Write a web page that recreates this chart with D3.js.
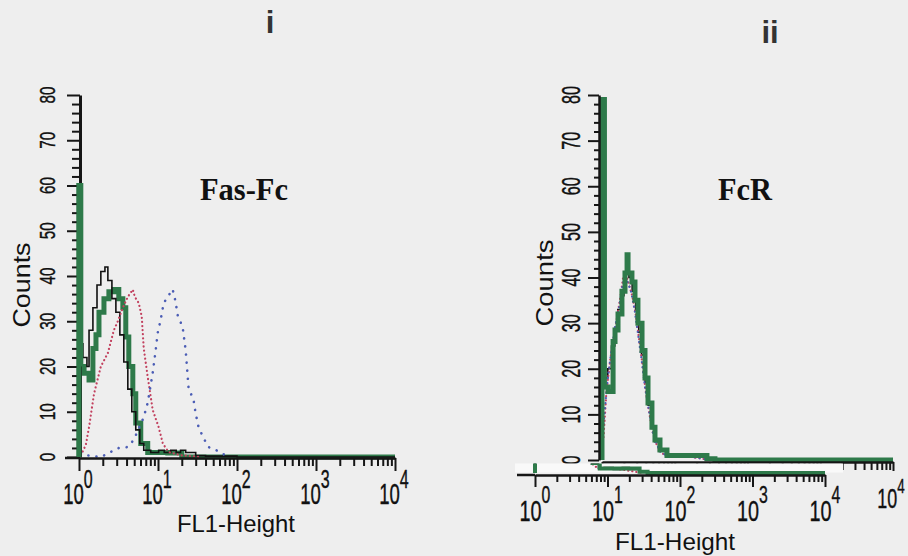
<!DOCTYPE html>
<html><head><meta charset="utf-8">
<script src="https://cdn.jsdelivr.net/npm/d3@7"></script>
<style>html,body{margin:0;padding:0;background:#eeeeee;} svg{display:block;}</style>
</head><body><svg id="c" width="908" height="556"></svg>
<script>
// ---------------- data ----------------
const panelNumbers = ["i", "ii"];
const panelLabels = ["Fas-Fc", "FcR"];
const xAxisTitle = "FL1-Height";
const yAxisTitle = "Counts";
const xTickExps = [0, 1, 2, 3, 4];
const yTickLabels = [0, 10, 20, 30, 40, 50, 60, 70, 80];

// Panel i (Fas-Fc): FL1 value vs counts
const leftGreenX = [1.0, 1.0, 1.05, 1.16, 1.34, 1.50, 1.64, 1.79, 2.07, 2.39, 2.76, 3.19, 3.59, 3.91, 4.27, 4.80, 5.23, 6.05, 7.41, 13.3, 20, 10000];
const leftGreenY = [0, 60, 20, 18.5, 17, 24, 27, 32, 35, 36.5, 37, 35, 33, 26.5, 20, 14, 7.5, 3, 1, 0.9, 0, 0];

const leftBlackX = [1.0, 1.0, 1.12, 1.26, 1.34, 1.50, 1.69, 1.89, 2.13, 2.32, 2.61, 2.93, 3.29, 3.69, 4.15, 4.66, 5.23, 5.88, 6.60, 8.09, 10.2, 12.0, 14.5, 17.0, 19.3, 22.4, 25.8, 30, 40, 100, 10000];
const leftBlackY = [0, 25, 22, 20, 28, 33, 38, 41, 42, 39, 35, 32, 27, 21, 15, 10, 6, 3, 1.5, 1, 1.5, 1, 1.5, 1, 1.5, 1, 1, 0.3, 0.2, 0, 0];

const leftRedX = [1.06, 1.22, 1.34, 1.55, 1.89, 2.32, 2.76, 3.10, 3.59, 4.15, 4.80, 5.09, 5.71, 6.23, 6.60, 7.41, 8.57, 10.2, 11.5, 13.6, 19.3, 34.5];
const leftRedY = [0.4, 2.7, 6.6, 14, 20, 23, 28, 30, 33, 35.4, 37, 35.4, 34, 31, 24, 17.7, 10.4, 6.6, 3, 1.1, 0.4, 0];

const leftBlueX = [1.06, 1.22, 1.89, 2.39, 3.19, 4.15, 4.94, 6.60, 7.41, 8.57, 9.35, 9.91, 10.8, 11.8, 13.3, 15.3, 16.7, 17.7, 20.5, 22.4, 24.4, 28.2, 29.9, 32.6, 37.7, 43.6, 61.8, 75.7];
const leftBlueY = [1, 0.4, 0, 0.9, 2, 2.2, 3.8, 8.8, 12, 18.6, 23.6, 27.4, 30.3, 34, 35.4, 37.1, 34.3, 31.4, 28.7, 23.6, 15.2, 12.6, 9.7, 6.6, 4.2, 2.2, 1.1, 0];

// Panel ii (FcR)
const rightGreenX = [1.0, 1.0, 1.08, 1.21, 1.42, 1.51, 1.66, 1.88, 2.07, 2.21, 2.28, 2.58, 2.84, 3.12, 3.55, 3.90, 4.29, 4.86, 5.35, 6.27, 7.82, 27.7, 35.7, 10000];
const rightGreenY = [0, 79, 16, 15, 26, 28.5, 32, 37, 41, 45, 41, 39, 35, 30, 24, 18, 12.5, 7.2, 4.4, 2.2, 1, 0.3, 0, 0];

const rightBlackX = [1.0, 1.0, 1.07, 1.2, 1.35, 1.5, 1.65, 1.85, 2.0, 2.15, 2.35, 2.6, 2.9, 3.2, 3.5, 3.9, 4.3, 4.8, 5.3, 6.0, 7.5, 9, 12, 16, 20, 28, 35, 10000];
const rightBlackY = [0, 75, 18, 20, 25, 29, 33, 36, 39, 42, 40, 37, 33, 28, 23, 17, 12, 7, 4, 2, 1, 1.2, 0.8, 1.2, 0.8, 0.5, 0, 0];

const rightRedX = [1.05, 1.15, 1.3, 1.45, 1.6, 1.8, 1.95, 2.1, 2.3, 2.6, 2.9, 3.2, 3.6, 4.0, 4.5, 5.0, 5.6, 6.5, 8, 12, 20, 30];
const rightRedY = [5, 15, 22, 27, 31, 36, 40, 41, 39, 36, 32, 27, 21, 15, 10, 6, 3.5, 1.5, 1, 1, 0.5, 0];

const rightBlueX = [1.05, 1.2, 1.35, 1.5, 1.7, 1.9, 2.05, 2.25, 2.5, 2.8, 3.1, 3.5, 3.9, 4.4, 5.0, 5.6, 6.5, 8, 12, 20, 30];
const rightBlueY = [8, 18, 24, 29, 33, 38, 40, 39, 37, 33, 28, 22, 16, 11, 6, 3.5, 1.5, 1, 1, 0.5, 0];

// ---------------- styles ----------------
const GREEN = "#2e7a4a", BLACK = "#111", RED = "#c2405e", BLUE = "#4b5db5", AXIS = "#161616";
const SANS = "Liberation Sans, Arial, sans-serif";
const SERIF = "Liberation Serif, Times New Roman, serif";

const svg = d3.select("#c");
svg.append("rect").attr("width", 908).attr("height", 556).attr("fill", "#eeeeee");

const zip = (xs, ys) => xs.map((x, i) => [x, ys[i]]);
const xTickVals = [];
for (let d = 0; d < 4; d++) for (let m = 1; m < 10; m++) xTickVals.push(m * Math.pow(10, d));
xTickVals.push(10000);

function drawSeries(g, x, y, xs, ys, opt) {
  const line = d3.line().x(d => x(d[0])).y(d => y(d[1])).curve(opt.curve || d3.curveLinear);
  g.append("path").datum(zip(xs, ys)).attr("d", line)
    .attr("fill", "none").attr("stroke", opt.color).attr("stroke-width", opt.width)
    .attr("stroke-dasharray", opt.dash || null).attr("stroke-linecap", opt.cap || "butt")
    .attr("stroke-linejoin", "miter");
}

function drawXAxis(g, x, yPos, extendLeft, majorLen, minorLen, width) {
  const ax = d3.axisBottom(x).tickValues(xTickVals).tickFormat("").tickSize(minorLen).tickSizeOuter(0);
  const a = g.append("g").attr("transform", `translate(0,${yPos})`).call(ax);
  a.select(".domain").attr("stroke", AXIS).attr("stroke-width", width);
  a.selectAll(".tick line").attr("stroke", AXIS).attr("stroke-width", 2)
    .filter(d => Math.abs(Math.log10(d) - Math.round(Math.log10(d))) < 1e-9).attr("y2", majorLen);
  a.append("line").attr("x1", x(1) - extendLeft).attr("x2", x(1)).attr("y1", 0).attr("y2", 0)
    .attr("stroke", AXIS).attr("stroke-width", width);
  return a;
}

function drawYAxis(g, y, xPos, majorLen, minorLen, width) {
  const ax = d3.axisLeft(y).tickValues(d3.range(0, 81, 2)).tickFormat("").tickSize(minorLen).tickSizeOuter(0);
  const a = g.append("g").attr("transform", `translate(${xPos},0)`).call(ax);
  a.select(".domain").attr("stroke", AXIS).attr("stroke-width", width);
  a.selectAll(".tick line").attr("stroke", AXIS).attr("stroke-width", 2)
    .filter(d => d % 10 === 0).attr("x2", -majorLen);
  return a;
}

function yLabels(g, y, baseX, size, digitW) {
  yTickLabels.forEach(v => {
    const s = String(v);
    g.append("text").attr("transform", `translate(${baseX},${y(v)}) rotate(-90)`)
      .attr("text-anchor", "middle").attr("font-family", SANS).attr("font-size", size)
      .attr("textLength", digitW * s.length).attr("lengthAdjust", "spacingAndGlyphs")
      .attr("fill", "#111").attr("stroke", "#111").attr("stroke-width", 0.4).text(s);
  });
}

function powLabel(g, cx, baseline, exp, mainSize, supSize, sx, supDy) {
  const t = g.append("text").attr("transform", `translate(${cx},${baseline}) scale(${sx},1)`)
    .attr("text-anchor", "middle").attr("font-family", SANS).attr("font-size", mainSize)
    .attr("fill", "#111").attr("stroke", "#111").attr("stroke-width", 0.4);
  t.append("tspan").text("10");
  t.append("tspan").attr("dy", supDy).attr("font-size", supSize).text(exp);
}

// ================= Panel i =================
{
  const g = svg.append("g");
  const x = d3.scaleLog().domain([1, 10000]).range([79, 395]);
  const y = d3.scaleLinear().domain([0, 80]).range([457, 95]);

  drawSeries(g, x, y, leftGreenX, leftGreenY, {color: GREEN, width: 5, curve: d3.curveStepAfter});
  drawSeries(g, x, y, leftBlackX, leftBlackY, {color: BLACK, width: 1.6, curve: d3.curveStepAfter});
  drawSeries(g, x, y, leftRedX, leftRedY, {color: RED, width: 2.2, dash: "0.1,4", cap: "round"});
  drawSeries(g, x, y, leftBlueX, leftBlueY, {color: BLUE, width: 2.6, dash: "0.1,8", cap: "round"});

  drawXAxis(g, x, 458, 14, 13, 8, 2.5);
  drawYAxis(g, y, 80, 13, 8, 3);
  drawSeries(g, x, y, leftGreenX.slice(0, 3), leftGreenY.slice(0, 3), {color: GREEN, width: 5, curve: d3.curveStepAfter});

  yLabels(g, y, 55, 22, 8.5);
  xTickExps.forEach(e => powLabel(g, x(Math.pow(10, e)) - 1, 504, String(e), 29, 25, 0.64, -16));

  g.append("text").attr("x", 236).attr("y", 532).attr("text-anchor", "middle")
    .attr("font-family", SANS).attr("font-size", 24).attr("textLength", 118)
    .attr("lengthAdjust", "spacingAndGlyphs").attr("fill", "#111").text(xAxisTitle);
  g.append("text").attr("transform", "translate(30,285) rotate(-90)").attr("text-anchor", "middle")
    .attr("font-family", SANS).attr("font-size", 24).attr("textLength", 85)
    .attr("lengthAdjust", "spacingAndGlyphs").attr("fill", "#111").text(yAxisTitle);
  g.append("text").attr("x", 244).attr("y", 200).attr("text-anchor", "middle")
    .attr("font-family", SERIF).attr("font-weight", "bold").attr("font-size", 32)
    .attr("textLength", 88).attr("lengthAdjust", "spacingAndGlyphs").attr("fill", "#111").text(panelLabels[0]);
  g.append("text").attr("x", 270).attr("y", 33).attr("text-anchor", "middle")
    .attr("font-family", SANS).attr("font-weight", "bold").attr("font-size", 31).attr("fill", "#333").text(panelNumbers[0]);
}

// ================= Panel ii =================
{
  const g = svg.append("g");
  const x = d3.scaleLog().domain([1, 10000]).range([602, 893]);
  const y = d3.scaleLinear().domain([0, 80]).range([460, 95]);

  drawSeries(g, x, y, rightBlackX, rightBlackY, {color: BLACK, width: 1.6, curve: d3.curveStepAfter});
  drawSeries(g, x, y, rightRedX, rightRedY, {color: RED, width: 2.2, dash: "0.1,4", cap: "round"});
  drawSeries(g, x, y, rightBlueX, rightBlueY, {color: BLUE, width: 2.2, dash: "0.1,5", cap: "round"});
  drawSeries(g, x, y, rightGreenX, rightGreenY, {color: GREEN, width: 5, curve: d3.curveStepAfter});

  drawXAxis(g, x, 462, 0, 9, 8, 2.5);
  drawYAxis(g, y, 599, 11, 5, 2.5);
  yLabels(g, y, 580, 26, 9);
  powLabel(g, x(10000) - 2, 508, "4", 28, 21, 0.64, -15);

  // overlapping lower strip of a second copy of the plot (collage artefact)
  const x2 = d3.scaleLog().domain([1, 10000]).range([535, 825]);
  const y2 = d3.scaleLinear().domain([0, 80]).range([473, 108]);
  g.append("rect").attr("x", 515).attr("y", 463.5).attr("width", 328).attr("height", 9).attr("fill", "#f9f9f9");
  const clip = svg.append("defs").append("clipPath").attr("id", "strip");
  clip.append("rect").attr("x", 515).attr("y", 463.5).attr("width", 328).attr("height", 12);
  const s = g.append("g").attr("clip-path", "url(#strip)");
  drawSeries(s, x2, y2, rightBlackX, rightBlackY, {color: BLACK, width: 1.6, curve: d3.curveStepAfter});
  drawSeries(s, x2, y2, rightRedX, rightRedY, {color: RED, width: 2.2, dash: "0.1,4", cap: "round"});
  drawSeries(s, x2, y2, rightGreenX, rightGreenY, {color: GREEN, width: 4, curve: d3.curveStepAfter});

  drawXAxis(g, x2, 475, 18, 12, 7, 2.5);
  xTickExps.forEach(e => powLabel(g, x2(Math.pow(10, e)), 521, String(e), 30, 24, 0.66, -18));

  g.append("text").attr("x", 675).attr("y", 550).attr("text-anchor", "middle")
    .attr("font-family", SANS).attr("font-size", 24).attr("textLength", 120)
    .attr("lengthAdjust", "spacingAndGlyphs").attr("fill", "#111").text(xAxisTitle);
  g.append("text").attr("transform", "translate(553,283) rotate(-90)").attr("text-anchor", "middle")
    .attr("font-family", SANS).attr("font-size", 24).attr("textLength", 87)
    .attr("lengthAdjust", "spacingAndGlyphs").attr("fill", "#111").text(yAxisTitle);
  g.append("text").attr("x", 745).attr("y", 200).attr("text-anchor", "middle")
    .attr("font-family", SERIF).attr("font-weight", "bold").attr("font-size", 32)
    .attr("textLength", 54).attr("lengthAdjust", "spacingAndGlyphs").attr("fill", "#111").text(panelLabels[1]);
  g.append("text").attr("x", 770).attr("y", 43).attr("text-anchor", "middle")
    .attr("font-family", SANS).attr("font-weight", "bold").attr("font-size", 31).attr("fill", "#333").text(panelNumbers[1]);
}
</script>
</body></html>
